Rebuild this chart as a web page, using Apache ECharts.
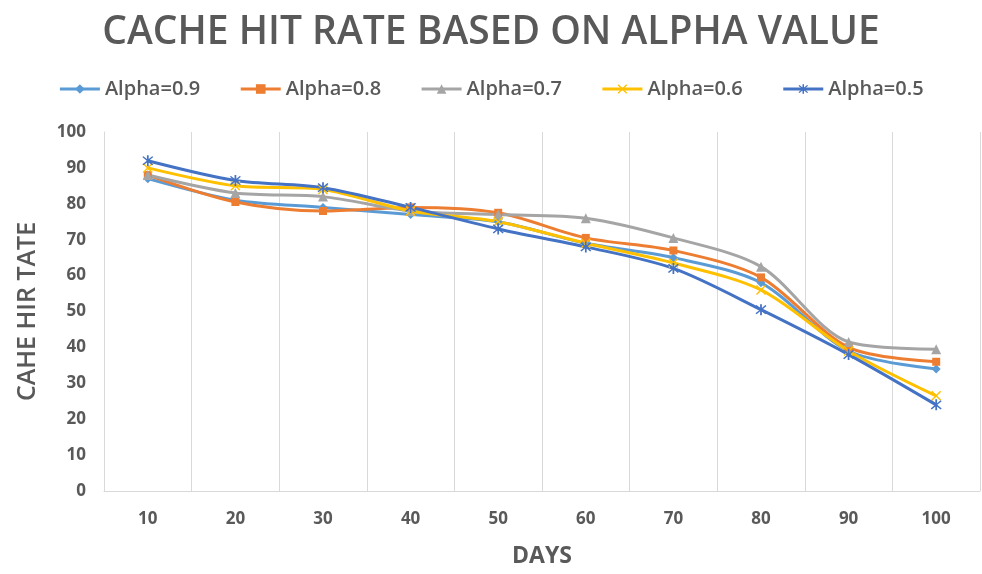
<!DOCTYPE html>
<html><head><meta charset="utf-8">
<script src="https://cdn.jsdelivr.net/npm/echarts@6/dist/echarts.min.js"></script>
<style>html,body{margin:0;padding:0;background:#fff}#c{width:982px;height:574px}</style>
</head><body><div id="c"></div>
<script>
const days = ['10','20','30','40','50','60','70','80','90','100'];
const seriesNames = ['Alpha=0.9','Alpha=0.8','Alpha=0.7','Alpha=0.6','Alpha=0.5'];
const alpha09 = [87, 81, 79, 77, 75, 69, 65, 58, 39, 34];
const alpha08 = [88, 80.5, 78, 79, 77.5, 70.5, 67, 59.5, 40, 36];
const alpha07 = [88, 83, 82, 78, 77, 76, 70.5, 62.5, 41.5, 39.5];
const alpha06 = [90, 85, 84, 78, 75, 69, 63.5, 56, 39, 26.5];
const alpha05 = [92, 86.5, 84.5, 79, 73, 68, 62, 50.5, 38, 24];
const values = [alpha09, alpha08, alpha07, alpha06, alpha05];
const colors = ['#5B9BD5','#ED7D31','#A5A5A5','#FFC000','#4472C4'];
const xPath = 'path://M1,0L5,4L9,0L10,1L6,5L10,9L9,10L5,6L1,10L0,9L4,5L0,1Z';
const starPath = 'path://M1,0L5,4L9,0L10,1L6,5L10,9L9,10L5,6L1,10L0,9L4,5L0,1ZM4.2,-1H5.8V11H4.2Z';
const symbols = ['diamond','rect','triangle',xPath,starPath];
const sizes = [9,8,10,10,11];
const txt = '#595959';
const chart = echarts.init(document.getElementById('c'));
chart.setOption({
  animation:false,
  color: colors,
  title:{text:'CACHE HIT RATE BASED ON ALPHA VALUE',left:'center',top:8,
    textStyle:{fontFamily:'Open Sans',fontWeight:600,fontSize:39,color:txt}},
  legend:{top:74,left:'center',itemWidth:40,itemHeight:12,itemGap:39,
    lineStyle:{width:3},
    textStyle:{fontFamily:'Open Sans',fontWeight:600,fontSize:20,color:txt},
    data:seriesNames},
  grid:{left:104,right:2,top:132,bottom:83},
  xAxis:{type:'category',data:days,boundaryGap:true,
    name:'DAYS',nameLocation:'middle',nameGap:54,
    nameTextStyle:{fontFamily:'Open Sans',fontWeight:'bold',fontSize:23,color:txt},
    axisLine:{lineStyle:{color:'#d9d9d9'}},axisTick:{show:false},
    axisLabel:{fontFamily:'Open Sans',fontWeight:'bold',fontSize:17,color:txt,margin:20},
    splitLine:{show:true,lineStyle:{color:'#d9d9d9'}}},
  yAxis:{type:'value',min:0,max:100,interval:10,
    name:'CAHE HIR TATE',nameLocation:'middle',nameGap:64,
    nameTextStyle:{fontFamily:'Open Sans',fontWeight:600,fontSize:25,color:txt},
    axisLine:{show:true,lineStyle:{color:'#d9d9d9'}},axisTick:{show:false},
    axisLabel:{fontFamily:'Open Sans',fontWeight:'bold',fontSize:17,color:txt,margin:18},
    splitLine:{show:false}},
  series: seriesNames.map((n,i)=>({
    name:n,type:'line',data:values[i],smooth:0.3,
    symbol:symbols[i],symbolSize:sizes[i],showSymbol:true,
    lineStyle:{width:3,color:colors[i]},itemStyle:{color:colors[i]}
  }))
});
</script></body></html>
